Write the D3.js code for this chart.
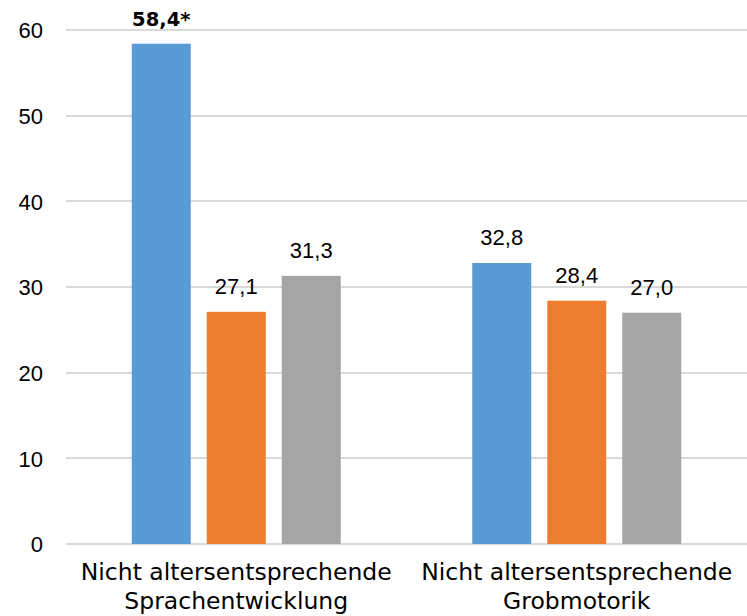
<!DOCTYPE html>
<html><head><meta charset="utf-8">
<script src="https://cdn.jsdelivr.net/npm/d3@7"></script>
<style>body{margin:0;background:#fff}</style>
</head><body>
<svg id="c" width="747" height="616"></svg>
<script>
const categories = [["Nicht altersentsprechende","Sprachentwicklung"],["Nicht altersentsprechende","Grobmotorik"]];
const seriesNames = ["A","B","C"];
const seriesColors = ["#5B9BD5","#ED7D31","#A5A5A5"];
const values = [[58.4,27.1,31.3],[32.8,28.4,27.0]];
const valueLabels = [["58,4*","27,1","31,3"],["32,8","28,4","27,0"]];
const boldLabels = [[true,false,false],[false,false,false]];
const yTicks = [0,10,20,30,40,50,60];

(function(){
const svg = d3.select("#c");
const pL = 66, pR = 747, pT = 30, pB = 544;
const y = d3.scaleLinear().domain([0,60]).range([pB, pT]);
const x0 = d3.scaleBand().domain([0,1]).range([pL,pR]).paddingInner(0).paddingOuter(0);
const x1 = d3.scaleBand().domain([0,1,2]).range([65.75, 340.5-65.75]).paddingInner(16/75).paddingOuter(0);

svg.append("g").selectAll("line").data(yTicks).join("line")
  .attr("x1",pL).attr("x2",pR)
  .attr("y1",d=>Math.round(y(d))).attr("y2",d=>Math.round(y(d)))
  .attr("stroke","#d9d9d9").attr("stroke-width",2);

const yAxis = d3.axisLeft(y).tickValues(yTicks).tickSize(0).tickPadding(0).tickFormat(d3.format("d"));
const ga = svg.append("g").attr("transform",`translate(43,0)`).call(yAxis);
ga.select(".domain").remove();
ga.selectAll("text").attr("font-family","Liberation Sans").attr("font-size",22).attr("fill","#000").attr("dy","0.35em");

const groups = svg.append("g").selectAll("g").data(values).join("g")
  .attr("transform",(d,i)=>`translate(${x0(i)},0)`);
groups.selectAll("rect").data(d=>d).join("rect")
  .attr("x",(d,j)=>x1(j)).attr("width",x1.bandwidth())
  .attr("y",d=>y(d)).attr("height",d=>y(0)-y(d))
  .attr("fill",(d,j)=>seriesColors[j]);
groups.selectAll("text").data((d,i)=>d.map((v,j)=>({v,j,i}))).join("text")
  .attr("x",d=>x1(d.j)+x1.bandwidth()/2).attr("y",d=>y(d.v)-18)
  .attr("text-anchor","middle")
  .attr("font-family",d=>boldLabels[d.i][d.j]?"DejaVu Sans":"Liberation Sans")
  .attr("font-weight",d=>boldLabels[d.i][d.j]?"bold":"normal")
  .attr("font-size",d=>boldLabels[d.i][d.j]?19.5:22)
  .attr("fill","#000")
  .text(d=>valueLabels[d.i][d.j]);

const cl = svg.append("g").selectAll("text").data(categories).join("text")
  .attr("x",(d,i)=>x0(i)+x0.bandwidth()/2).attr("y",580)
  .attr("text-anchor","middle").attr("font-family","DejaVu Sans").attr("font-size",23.5).attr("fill","#000");
cl.selectAll("tspan").data(d=>d).join("tspan")
  .attr("x",function(){return this.parentNode.getAttribute("x");})
  .attr("dy",(d,k)=>k===0?0:29).text(d=>d);
})();
</script>
</body></html>
